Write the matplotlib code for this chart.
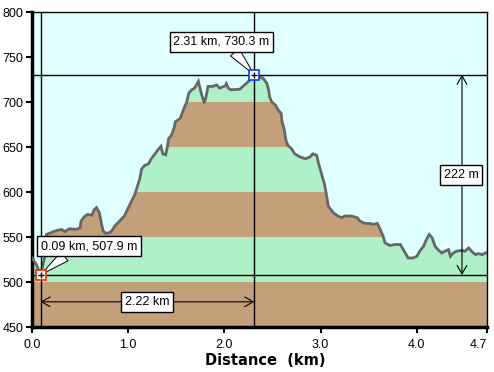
import numpy as np
import matplotlib
matplotlib.use('Agg')
import matplotlib.pyplot as plt

plt.rcParams['font.family'] = ['Liberation Sans', 'DejaVu Sans']

# --- data -------------------------------------------------------------
dist_km = [0.00, 0.046, 0.09, 0.13, 0.15, 0.236, 0.306, 0.34, 0.39, 0.46, 0.50, 0.51,
           0.55, 0.58, 0.62, 0.65, 0.67, 0.70, 0.72, 0.74, 0.77, 0.81, 0.84, 0.86,
           0.91, 0.96, 1.01, 1.07, 1.12, 1.14, 1.17, 1.21, 1.24, 1.28, 1.31, 1.34,
           1.36, 1.39, 1.41, 1.42, 1.45, 1.48, 1.49, 1.54, 1.56, 1.58, 1.61, 1.63,
           1.66, 1.69, 1.73, 1.75, 1.77, 1.79, 1.81, 1.83, 1.88, 1.92, 1.95, 2.01,
           2.02, 2.04, 2.07, 2.16, 2.21, 2.25, 2.28, 2.31, 2.35, 2.40, 2.44, 2.46,
           2.47, 2.49, 2.53, 2.56, 2.59, 2.60, 2.62, 2.64, 2.66, 2.70, 2.73, 2.79,
           2.84, 2.89, 2.92, 2.96, 2.98, 3.01, 3.04, 3.06, 3.08, 3.13, 3.18, 3.22,
           3.25, 3.32, 3.38, 3.41, 3.46, 3.51, 3.55, 3.59, 3.62, 3.65, 3.67, 3.72,
           3.77, 3.83, 3.84, 3.88, 3.91, 3.96, 4.00, 4.03, 4.07, 4.10, 4.13, 4.16,
           4.19, 4.22, 4.26, 4.29, 4.33, 4.35, 4.38, 4.41, 4.47, 4.50, 4.54, 4.57,
           4.61, 4.64, 4.68, 4.73]
elev_m = [526.7, 519.2, 507.9, 527.0, 552.8, 556.5, 558.4, 556.0, 559.2, 558.4, 560.3, 567.7,
          573.3, 575.2, 574.1, 580.8, 582.7, 577.1, 565.9, 556.5, 554.0, 555.0, 558.4, 562.1,
          567.7, 573.3, 584.5, 597.6, 614.5, 625.7, 629.4, 631.3, 636.9, 642.5, 647.0, 650.7,
          642.5, 641.4, 651.8, 659.3, 663.0, 672.4, 678.0, 681.7, 687.3, 693.0, 700.4, 709.8,
          713.5, 715.4, 722.9, 713.5, 706.0, 698.5, 706.0, 717.3, 717.3, 719.0, 715.4, 718.0,
          720.3, 715.4, 713.5, 714.2, 719.0, 722.9, 726.6, 730.3, 727.7, 726.6, 721.0, 713.5,
          706.0, 700.4, 696.6, 691.0, 687.3, 678.0, 670.5, 657.4, 651.8, 648.0, 642.5, 638.8,
          636.9, 638.8, 642.5, 640.6, 631.3, 620.1, 608.9, 597.6, 584.5, 577.1, 573.3, 571.5,
          573.3, 573.3, 571.5, 567.7, 565.1, 565.1, 564.0, 565.1, 558.4, 550.9, 543.5, 540.5,
          541.6, 541.6, 539.7, 532.3, 526.7, 526.7, 528.5, 534.1, 539.7, 547.2, 552.8, 549.1,
          539.7, 536.0, 532.3, 534.1, 536.0, 528.5, 532.3, 534.1, 535.2, 534.1, 537.9, 534.1,
          530.4, 531.5, 530.4, 533.0]

band_edges = [450, 500, 550, 600, 650, 700, 750]
band_colors = ['#c4a07a', '#aef0c8', '#c4a07a', '#aef0c8', '#c4a07a', '#aef0c8']

x_ticks = [0, 1, 2, 3, 4, 4.73]
x_tick_labels = ['0.0', '1.0', '2.0', '3.0', '4.0', '4.7']
y_ticks = [450, 500, 550, 600, 650, 700, 750, 800]

pt_a = (0.09, 507.9)
pt_b = (2.31, 730.3)

# --- figure -----------------------------------------------------------
fig = plt.figure(figsize=(4.94, 3.72), dpi=100)
l, r, b, t = 32 / 494, 487 / 494, (372 - 327) / 372, (372 - 12) / 372
ax = fig.add_axes([l, b, r - l, t - b])
ax.set_facecolor('#e0ffff')
ax.set_xlim(0, 4.73)
ax.set_ylim(450, 800)

prof = ax.fill_between(dist_km, 450, elev_m, facecolor='none', edgecolor='none')
clip = prof.get_paths()[0]
for lo, hi, c in zip(band_edges[:-1], band_edges[1:], band_colors):
    rect = ax.axhspan(lo, hi, color=c, lw=0, zorder=1)
    rect.set_clip_path(clip, ax.transData)

ax.plot(dist_km, elev_m, color='#666666', lw=2, zorder=3, solid_joinstyle='miter')

for xv in (pt_a[0], pt_b[0]):
    ax.axvline(xv, color='black', lw=1, zorder=4)
for yv in (pt_a[1], pt_b[1]):
    ax.axhline(yv, color='black', lw=1, zorder=4)

# dimension arrows
arr_y = 478
ax.annotate('', xy=(pt_a[0], arr_y), xytext=(pt_b[0], arr_y),
            arrowprops=dict(arrowstyle='<->,head_length=0.6,head_width=0.35', lw=0.8,
                            color='black', shrinkA=0, shrinkB=0), zorder=5)
ax.text((pt_a[0] + pt_b[0]) / 2, arr_y, f'{pt_b[0] - pt_a[0]:.2f} km', ha='center', va='center',
        fontsize=9, zorder=6,
        bbox=dict(boxstyle='square,pad=0.3', fc='white', ec='black', lw=1))

arr_x = 4.47
ax.annotate('', xy=(arr_x, pt_a[1]), xytext=(arr_x, pt_b[1]),
            arrowprops=dict(arrowstyle='<->,head_length=0.6,head_width=0.35', lw=0.8,
                            color='black', shrinkA=0, shrinkB=0), zorder=5)
ax.text(arr_x - 0.01, (pt_a[1] + pt_b[1]) / 2, f'{pt_b[1] - pt_a[1]:.0f} m', ha='center', va='center',
        fontsize=9, zorder=6,
        bbox=dict(boxstyle='square,pad=0.3', fc='white', ec='black', lw=1))

# callouts
ax.annotate(f'{pt_b[0]:.2f} km, {pt_b[1]:.1f} m', xy=pt_b, xytext=(1.97, 766.7),
            ha='center', va='center', fontsize=9, zorder=7,
            bbox=dict(boxstyle='square,pad=0.3', fc='white', ec='black', lw=1),
            arrowprops=dict(arrowstyle='wedge,tail_width=0.9,shrink_factor=0.5',
                            fc='white', ec='black', lw=0.7, shrinkA=0, shrinkB=0,
                            relpos=(0.6, 0.0)))
ax.annotate(f'{pt_a[0]:.2f} km, {pt_a[1]:.1f} m', xy=pt_a, xytext=(0.595, 539.9),
            ha='center', va='center', fontsize=9, zorder=7,
            bbox=dict(boxstyle='square,pad=0.3', fc='white', ec='black', lw=1),
            arrowprops=dict(arrowstyle='wedge,tail_width=0.9,shrink_factor=0.5',
                            fc='white', ec='black', lw=0.7, shrinkA=0, shrinkB=0,
                            relpos=(0.3, 0.0)))

# markers
ax.plot(*pt_a, marker='s', ms=7, mfc='white', mec='#ff2000', mew=1.2, zorder=8)
ax.plot(*pt_a, marker='+', ms=5, color='black', mew=1, zorder=9)
ax.plot(*pt_b, marker='s', ms=7, mfc='white', mec='#0040ff', mew=1.2, zorder=8)
ax.plot(*pt_b, marker='+', ms=5, color='black', mew=1, zorder=9)

# axes styling
ax.set_xticks(x_ticks)
ax.set_xticklabels(x_tick_labels)
ax.set_yticks(y_ticks)
ax.tick_params(direction='out', length=4, width=1.5, labelsize=9, pad=2)
ax.tick_params(axis='x', pad=5)
ax.get_xticklabels()[-1].set_horizontalalignment('right')
for s in ('left', 'bottom'):
    ax.spines[s].set_linewidth(2.5)
for s in ('top', 'right'):
    ax.spines[s].set_linewidth(1)
ax.set_xlabel('Distance  (km)', fontweight='bold', fontsize=10.5,
              family=['DejaVu Sans'])
ax.xaxis.label.set_va('center')
ax.xaxis.set_label_coords(0.513, -0.105)

fig.savefig('out.png', dpi=100)
